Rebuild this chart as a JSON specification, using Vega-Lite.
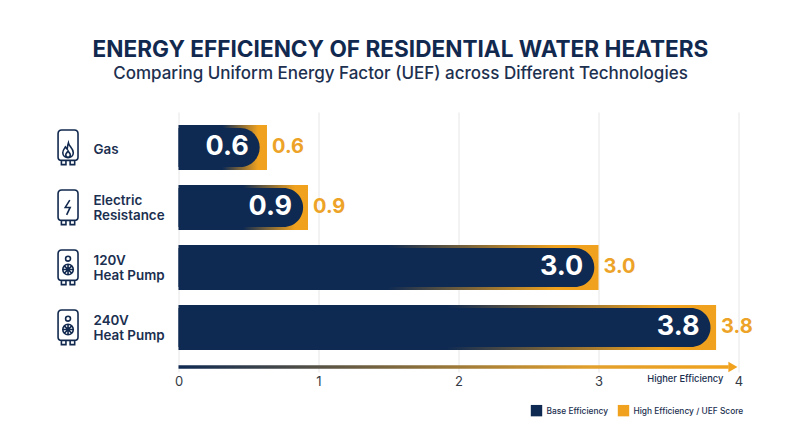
{
  "$schema": "https://vega.github.io/schema/vega-lite/v6.json",
  "width": 560,
  "height": 260,
  "autosize": {"type": "none"},
  "padding": {"left": 178.5, "top": 112, "right": 61.5, "bottom": 75},
  "background": "white",
  "title": {
    "text": "ENERGY EFFICIENCY OF RESIDENTIAL WATER HEATERS",
    "subtitle": "Comparing Uniform Energy Factor (UEF) across Different Technologies",
    "anchor": "middle",
    "dx": -58,
    "offset": 30,
    "font": "Inter",
    "fontSize": 22.6,
    "fontWeight": 700,
    "color": "#12294f",
    "subtitleFont": "Inter",
    "subtitleFontSize": 17,
    "subtitleFontWeight": 500,
    "subtitleColor": "#1d3050",
    "subtitlePadding": 4
  },
  "config": {"view": {"stroke": null}, "font": "Inter"},
  "datasets": {
    "heaters": [
      {"tech": "Gas", "uef": "0.6", "zero": 0, "base": 0.58, "high": 0.632, "icon": -0.789},
      {"tech": "Electric Resistance", "uef": "0.9", "zero": 0, "base": 0.89, "high": 0.925, "icon": -0.789},
      {"tech": "120V Heat Pump", "uef": "3.0", "zero": 0, "base": 2.97, "high": 3.0, "icon": -0.789},
      {"tech": "240V Heat Pump", "uef": "3.8", "zero": 0, "base": 3.8, "high": 3.84, "icon": -0.789}
    ],
    "legendRows": [
      {"tech": "Gas", "series": "Base Efficiency", "from": 0},
      {"tech": "Gas", "series": "High Efficiency / UEF Score", "from": 0}
    ],
    "arrow": [
      {"tech": "240V Heat Pump", "start": 0, "end": 3.93, "tip": 3.96, "hint": 3.62, "label": "Higher Efficiency"}
    ]
  },
  "encoding": {
    "y": {
      "field": "tech",
      "type": "nominal",
      "sort": ["Gas", "Electric Resistance", "120V Heat Pump", "240V Heat Pump"],
      "scale": {"paddingInner": 0.25, "paddingOuter": 0.2917, "align": 0.37},
      "axis": {
        "title": null,
        "domain": false,
        "ticks": false,
        "grid": false,
        "labelAlign": "left",
        "labelPadding": 85.5,
        "labelFont": "Inter",
        "labelFontSize": 13.4,
        "labelFontWeight": 600,
        "labelColor": "#1b2f50",
        "labelLineHeight": 15.5,
        "labelOffset": {"condition": {"test": "datum.value == 'Gas'", "value": 2.5}, "value": -6.5},
        "labelExpr": "split(replace(datum.label, ' ', '|'), '|')"
      }
    }
  },
  "layer": [
    {
      "data": {"name": "legendRows"},
      "mark": {"type": "bar", "height": 1},
      "encoding": {
        "x": {
          "field": "from",
          "type": "quantitative",
          "scale": {"domain": [0, 4], "nice": false},
          "axis": {
            "title": null,
            "values": [0, 1, 2, 3, 4],
            "format": "d",
            "domain": false,
            "ticks": false,
            "grid": true,
            "gridColor": "#e6e6e6",
            "labelAngle": 0,
            "labelFont": "Inter",
            "labelFontSize": 13,
            "labelColor": "#333a45",
            "labelPadding": 3,
            "labelFlush": false
          }
        },
        "x2": {"field": "from"},
        "color": {
          "field": "series",
          "type": "nominal",
          "scale": {"domain": ["Base Efficiency", "High Efficiency / UEF Score"], "range": ["#0f2a52", "#f0a21e"]},
          "legend": {
            "title": null,
            "orient": "none",
            "legendX": 352,
            "legendY": 292.5,
            "direction": "horizontal",
            "symbolType": "square",
            "symbolSize": 130,
            "symbolStrokeWidth": 0,
            "labelFont": "Inter",
            "labelFontSize": 8.4,
            "labelFontWeight": 500,
            "labelColor": "#1b2f50",
            "labelOffset": 4,
            "columnPadding": 9
          }
        }
      }
    },
    {
      "data": {"name": "heaters"},
      "mark": {
        "type": "bar",
        "height": 45,
        "fill": {
          "gradient": "linear",
          "x1": 0, "y1": 0, "x2": 1, "y2": 0,
          "stops": [
            {"offset": 0, "color": "#0f2a52"},
            {"offset": 0.5, "color": "#0f2a52"},
            {"offset": 0.9, "color": "#f0a21e"},
            {"offset": 1, "color": "#f0a21e"}
          ]
        }
      },
      "encoding": {
        "x": {"field": "zero", "type": "quantitative"},
        "x2": {"field": "high"}
      }
    },
    {
      "data": {"name": "heaters"},
      "mark": {"type": "bar", "height": 39, "fill": "#0f2a52", "cornerRadiusTopRight": 19.5, "cornerRadiusBottomRight": 19.5},
      "encoding": {
        "x": {"field": "zero", "type": "quantitative"},
        "x2": {"field": "base"}
      }
    },
    {
      "data": {"name": "heaters"},
      "mark": {"type": "text", "align": "right", "baseline": "middle", "dx": -11, "font": "Inter", "fontSize": 27, "fontWeight": 700, "fill": "white"},
      "encoding": {
        "x": {"field": "base", "type": "quantitative"},
        "text": {"field": "uef", "type": "nominal"}
      }
    },
    {
      "data": {"name": "heaters"},
      "mark": {"type": "text", "align": "left", "baseline": "middle", "dx": 5, "font": "Inter", "fontSize": 20, "fontWeight": 700, "fill": "#eda328"},
      "encoding": {
        "x": {"field": "high", "type": "quantitative"},
        "text": {"field": "uef", "type": "nominal"}
      }
    },
    {
      "data": {"name": "heaters"},
      "mark": {"type": "point", "filled": false, "size": 1225, "stroke": "#12294f", "strokeWidth": 1.6, "opacity": 1},
      "encoding": {
        "x": {"field": "icon", "type": "quantitative"},
        "shape": {
          "field": "tech",
          "type": "nominal",
          "legend": null,
          "scale": {
            "domain": ["Gas", "Electric Resistance", "120V Heat Pump", "240V Heat Pump"],
            "range": [
              "M-0.36,-1 H0.36 Q0.57,-1 0.57,-0.78 V0.56 Q0.57,0.74 0.36,0.74 H-0.36 Q-0.57,0.74 -0.57,0.56 V-0.78 Q-0.57,-1 -0.36,-1 Z M-0.38,0.74 V0.98 H-0.12 V0.74 M0.12,0.74 V0.98 H0.38 V0.74 M0.02,-0.26 C0.06,-0.05 0.3,0.05 0.3,0.3 C0.3,0.48 0.15,0.58 0,0.58 C-0.15,0.58 -0.3,0.48 -0.3,0.3 C-0.3,0.15 -0.2,0.05 -0.15,-0.03 C-0.1,0.05 -0.08,0.08 -0.05,0.1 C-0.03,0 -0.03,-0.12 0.02,-0.26 Z M0,0.2 C0.05,0.3 0.13,0.33 0.13,0.42 C0.13,0.5 0.06,0.56 0,0.56 C-0.06,0.56 -0.13,0.5 -0.13,0.42 C-0.13,0.33 -0.05,0.3 0,0.2 Z",
              "M-0.36,-1 H0.36 Q0.57,-1 0.57,-0.78 V0.56 Q0.57,0.74 0.36,0.74 H-0.36 Q-0.57,0.74 -0.57,0.56 V-0.78 Q-0.57,-1 -0.36,-1 Z M-0.38,0.74 V0.98 H-0.12 V0.74 M0.12,0.74 V0.98 H0.38 V0.74 M0.1,-0.42 L-0.16,0 H0.12 L-0.08,0.42",
              "M-0.36,-1 H0.36 Q0.57,-1 0.57,-0.78 V0.56 Q0.57,0.74 0.36,0.74 H-0.36 Q-0.57,0.74 -0.57,0.56 V-0.78 Q-0.57,-1 -0.36,-1 Z M-0.38,0.74 V0.98 H-0.12 V0.74 M0.12,0.74 V0.98 H0.38 V0.74 M0.14,-0.5 A0.14,0.14 0 1 1 -0.14,-0.5 A0.14,0.14 0 1 1 0.14,-0.5 Z M0.3,0.12 A0.3,0.3 0 1 1 -0.3,0.12 A0.3,0.3 0 1 1 0.3,0.12 Z M0,-0.18 V0.42 M-0.3,0.12 H0.3 M-0.21,-0.09 L0.21,0.33 M0.21,-0.09 L-0.21,0.33",
              "M-0.36,-1 H0.36 Q0.57,-1 0.57,-0.78 V0.56 Q0.57,0.74 0.36,0.74 H-0.36 Q-0.57,0.74 -0.57,0.56 V-0.78 Q-0.57,-1 -0.36,-1 Z M-0.38,0.74 V0.98 H-0.12 V0.74 M0.12,0.74 V0.98 H0.38 V0.74 M0.14,-0.5 A0.14,0.14 0 1 1 -0.14,-0.5 A0.14,0.14 0 1 1 0.14,-0.5 Z M0.3,0.12 A0.3,0.3 0 1 1 -0.3,0.12 A0.3,0.3 0 1 1 0.3,0.12 Z M0,-0.18 V0.42 M-0.3,0.12 H0.3 M-0.21,-0.09 L0.21,0.33 M0.21,-0.09 L-0.21,0.33"
            ]
          }
        }
      }
    },
    {
      "data": {"name": "arrow"},
      "mark": {
        "type": "bar",
        "height": 3.5,
        "yOffset": 39.5,
        "fill": {
          "gradient": "linear",
          "x1": 0, "y1": 0, "x2": 1, "y2": 0,
          "stops": [
            {"offset": 0, "color": "#0f2a52"},
            {"offset": 0.75, "color": "#e2a02c"},
            {"offset": 1, "color": "#f0a21e"}
          ]
        }
      },
      "encoding": {
        "x": {"field": "start", "type": "quantitative"},
        "x2": {"field": "end"}
      }
    },
    {
      "data": {"name": "arrow"},
      "mark": {"type": "point", "shape": "triangle-right", "filled": true, "opacity": 1, "size": 110, "fill": "#f0a21e", "yOffset": 39.5},
      "encoding": {
        "x": {"field": "tip", "type": "quantitative"}
      }
    },
    {
      "data": {"name": "arrow"},
      "mark": {"type": "text", "align": "center", "baseline": "middle", "yOffset": 51.5, "font": "Inter", "fontSize": 9.3, "fontWeight": 500, "fill": "#1b2f50"},
      "encoding": {
        "x": {"field": "hint", "type": "quantitative"},
        "text": {"field": "label", "type": "nominal"}
      }
    }
  ]
}
